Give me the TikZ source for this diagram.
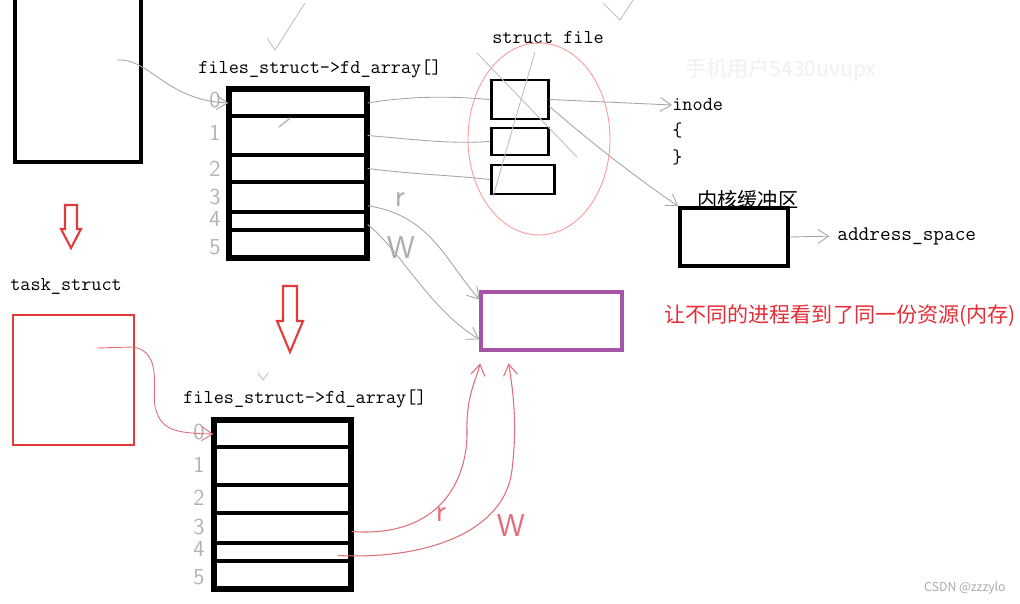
\documentclass[tikz,border=0pt]{standalone}
\usepackage{fontspec}
\newfontfamily\cjk{Noto Sans CJK SC}
\usepackage{xcolor}
\usepackage{tikz}
\usetikzlibrary{positioning, arrows.meta, calc, fit}

\definecolor{boxred}{RGB}{225,60,60}
\definecolor{penred}{RGB}{225,110,120}
\definecolor{txtred}{RGB}{230,45,55}
\definecolor{memviolet}{RGB}{165,85,165}

\tikzset{
  box/.style={draw, line width=2pt, inner sep=0pt},
  taskbox/.style={box, draw=boxred, line width=1.7pt},
  fdrow/.style={draw, line width=1.9pt, inner sep=0pt},
  fdframe/.style={draw, line width=2.8pt, inner sep=0pt},
  filebox/.style={draw, line width=1.7pt, inner sep=0pt},
  membox/.style={draw=memviolet, line width=1.8pt, inner sep=0pt},
  lbl/.style={font=\ttfamily\fontsize{11.2}{13}\selectfont, text=black, inner sep=0pt},
  cjklbl/.style={font=\cjk\fontsize{11.5}{13}\selectfont, inner sep=0pt},
  idx/.style={font=\sffamily\fontsize{13}{13}\selectfont, text=gray!60, inner sep=0pt},
  hand/.style={font=\sffamily\fontsize{18}{18}\selectfont, inner sep=0pt},
  ptr/.style={draw=gray!70, line width=0.5pt},
  penline/.style={draw=penred, line width=0.6pt},
  scribble/.style={draw=gray!50, line width=0.5pt},
  bigarrow/.style={draw=boxred, line width=1.2pt, line join=miter}
}

\begin{document}
\begin{tikzpicture}[x=0.02cm, y=-0.02cm, >={Straight Barb[length=2.2mm, width=2.8mm]}]
\useasboundingbox (0,0) rectangle (1020,604);
\fill[white] (0,0) rectangle (1020,604);

% Process box (cut off at the top)
\node[box, fit={(15,-20) (141,162)}] (proc) {};
\coordinate (procptr) at (117,60);

% Red outline arrows
\draw[bigarrow] (65,205) -- (77,205) -- (77,229) -- (81,229) -- (71,248) -- (61,229) -- (65,229) -- cycle;
\draw[bigarrow] (283,286) -- (297,286) -- (297,321) -- (303,321) -- (290,352) -- (277,321) -- (283,321) -- cycle;

% task_struct
\node[lbl, anchor=west] (tasklab) at (10,286) {task\_struct};
\node[taskbox, fit={(13,315) (134,445)}] (task) {};
\coordinate (taskptr) at (97,348);

% fd arrays
\node[lbl, anchor=west] (fdtoplab) at (198,69) {files\_struct->fd\_array[]};
\foreach \i/\a/\b/\ly in {0/90/116/100, 1/116/155/133, 2/155/182/169, 3/182/212/197, 4/212/230/219, 5/230/257/247} {
  \node[fdrow, fit={(230,\a) (366,\b)}] (fdtop\i) {};
  \node[idx] (idxtop\i) at (215,\ly) {\i};
}
\node[fdframe, fit=(fdtop0)(fdtop5)] (fdtop) {};

\node[lbl, anchor=west] (fdbotlab) at (183,399) {files\_struct->fd\_array[]};
\foreach \i/\a/\b/\ly in {0/421/447/432, 1/447/485/465, 2/485/513/498, 3/513/543/527, 4/543/561/549, 5/561/588/577} {
  \node[fdrow, fit={(215,\a) (350,\b)}] (fdbot\i) {};
  \node[idx] (idxbot\i) at (199,\ly) {\i};
}
\node[fdframe, fit=(fdbot0)(fdbot5)] (fdbot) {};

% struct file
\node[lbl, anchor=west] (filelab) at (492,37) {struct file};
\node[filebox, fit={(491,80) (548,119)}] (file1) {};
\node[filebox, fit={(491,128) (548,155)}] (file2) {};
\node[filebox, fit={(491,165) (554,194)}] (file3) {};
\draw[red!40, line width=0.5pt] (539,139) ellipse [x radius=71, y radius=96];

% inode and kernel buffer
\node[lbl, anchor=west] (inode) at (672,105) {inode};
\node[lbl, anchor=west] (lbrace) at (672,130) {\{};
\node[lbl, anchor=west] (rbrace) at (672,157) {\}};
\node[cjklbl, anchor=west] (buflab) at (697,200) {内核缓冲区};
\node[box, fit={(680,208) (788,266)}] (buf) {};
\node[lbl, anchor=west, font=\ttfamily\fontsize{11.8}{13}\selectfont] (addr) at (837,236) {address\_space};

% shared memory
\node[membox, fit={(481,292) (622,350)}] (mem) {};
\node[cjklbl, anchor=west, text=txtred, font=\cjk\fontsize{12}{14}\selectfont] (memtxt) at (664,316) {让不同的进程看到了同一份资源(内存)};

% watermarks
\node[cjklbl, text=gray!12, anchor=west, font=\cjk\fontsize{12}{14}\selectfont] (wm) at (685,70) {手机用户5430uvupx};
\node[text=gray!65, anchor=east, font=\cjk\fontsize{7}{8}\selectfont, inner sep=0pt] (csdn) at (1006,588) {CSDN @zzzylo};

% pointers (gray)
\draw[ptr, ->] (procptr) .. controls (150,58) and (165,100) .. (fdtop0.west);
\draw[ptr] (fdtop0.east) .. controls (410,96) and (450,96) .. (file1.west);
\draw[ptr] (fdtop1.east) .. controls (420,140) and (450,144) .. (file2.west);
\draw[ptr] (fdtop2.east) .. controls (420,175) and (450,175) .. (file3.west);
\draw[ptr, ->] (file1.east) -- (inode.west);
\draw[ptr, ->] ([yshift=-4pt]file1.east) .. controls (600,150) and (640,180) .. (buf.north west);
\draw[ptr, ->, shorten >=1.5mm] (buf.east) -- (addr.west);
\draw[ptr, ->] ([yshift=-5pt]fdtop3.east) .. controls (430,215) and (445,260) .. ($(mem.north west)!.15!(mem.south west)$);
\draw[ptr, ->] ([yshift=-2pt]fdtop4.east) .. controls (400,250) and (430,310) .. ($(mem.north west)!.8!(mem.south west)$);
\node[hand, text=gray!65] (rtop) at (400,200) {r};
\node[hand, text=gray!65] (wtop) at (401,248) {W};

% pointers (red)
\draw[penline, ->, shorten >=2.4mm] ([yshift=-2pt]fdbot3.east) .. controls (440,538) and (468,480) .. (467,430) .. controls (466,395) and (478,375) .. ($(mem.south west)!.02!(mem.south east)$);
\draw[penline, ->, shorten >=2.4mm] ([xshift=-8pt,yshift=-2pt]fdbot4.east) .. controls (430,560) and (505,530) .. (512,470) .. controls (518,420) and (512,385) .. ($(mem.south west)!.19!(mem.south east)$);
\node[hand, text=penred] (rbot) at (441,515) {r};
\node[hand, text=penred] (wbot) at (511,526) {W};

% task_struct -> fd array
\draw[ptr, draw=penred, ->] (taskptr) -- (133,347) .. controls (165,352) and (150,395) .. (156,410) .. controls (162,432) and (180,433) .. (fdbot0.west);

% scribbles
\draw[scribble] (267,38) -- (275,50) -- (305,3);
\draw[scribble] (603,3) -- (620,20) -- (633,0);
\draw[scribble] (258,373) -- (263,380) -- (268,373);
\draw[scribble] (477,53) -- (577,157);
\draw[scribble] (535,52) .. controls (515,120) .. (493,197);
\draw[scribble, line width=1pt] (279,127) -- (290,118);
\end{tikzpicture}
\end{document}
